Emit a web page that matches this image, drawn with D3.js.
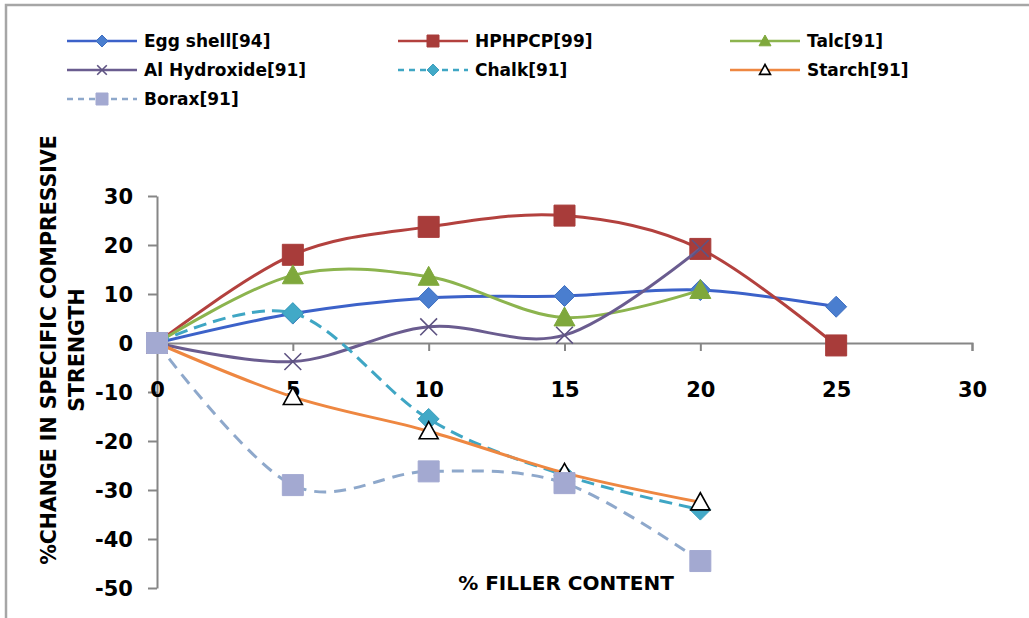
<!DOCTYPE html>
<html><head><meta charset="utf-8">
<script src="https://cdn.jsdelivr.net/npm/d3@7"></script>
<style>
body{margin:0;background:#fff}
text{font-family:"DejaVu Sans",sans-serif;font-weight:bold;fill:#000}
</style>
</head><body>
<svg id="chart" width="1029" height="618"></svg>
<script>
// ---- data ----
const xValues = [0, 5, 10, 15, 20, 25];
const eggShell    = [0, 6.0, 9.2, 9.6, 10.8, 7.4];
const hphpcp      = [0, 18.0, 23.7, 26.0, 19.2, -0.5];
const talc        = [0, 13.8, 13.5, 5.2, 10.8];
const alHydroxide = [0, -3.8, 3.3, 1.6, 19.3];
const chalk       = [0, 6.1, -15.5, -27.0, -34.0];
const starch      = [0, -11.0, -18.0, -26.5, -32.5];
const borax       = [0, -29.0, -26.2, -28.6, -44.5];
const seriesNames = ["Egg shell[94]", "HPHPCP[99]", "Talc[91]", "Al Hydroxide[91]", "Chalk[91]", "Starch[91]", "Borax[91]"];
const xTicks = [0, 5, 10, 15, 20, 25, 30];
const yTicks = [30, 20, 10, 0, -10, -20, -30, -40, -50];
const xTitle = "% FILLER CONTENT";
const yTitle1 = "%CHANGE IN SPECIFIC COMPRESSIVE";
const yTitle2 = "STRENGTH";

// ---- styles ----
const styles = [
  {values: eggShell,    line: "#3C62C9", fill: "#4A7ECF", stroke: "#3E6EC0", marker: "diamond", dash: null},
  {values: hphpcp,      line: "#B3413E", fill: "#A83C3A", stroke: "#A83C3A", marker: "square", dash: null},
  {values: talc,        line: "#8CB44E", fill: "#7FA83C", stroke: "#7FA83C", marker: "triangle", dash: null},
  {values: alHydroxide, line: "#6A5C8F", fill: "none", stroke: "#5E5382", marker: "x", dash: null},
  {values: chalk,       line: "#3FA6C4", fill: "#42A9C7", stroke: "#3FA0BE", marker: "diamond", dash: "13,7"},
  {values: starch,      line: "#EE8741", fill: "#FFFFFF", stroke: "#000000", marker: "openTriangle", dash: null},
  {values: borax,       line: "#8EA8CB", fill: "#A3A9D1", stroke: "#A3A9D1", marker: "square", dash: "12,8"}
];

const svg = d3.select("#chart");
const x = d3.scaleLinear().domain([0, 30]).range([157, 972]);
const y = d3.scaleLinear().domain([-50, 30]).range([588, 196]);

// chart border
svg.append("path").attr("d", "M6,618 L6,5 L1029,5").attr("fill", "none")
  .attr("stroke", "#a6a6a6").attr("stroke-width", 2.5);

function markerPath(type, s) {
  switch (type) {
    case "diamond": return `M0,${-s}L${s},0L0,${s}L${-s},0Z`;
    case "square": return `M${-s},${-s}H${s}V${s}H${-s}Z`;
    case "triangle":
    case "openTriangle": return `M0,${-s}L${s},${s*0.8}L${-s},${s*0.8}Z`;
    case "x": return `M${-s},${-s}L${s},${s}M${-s},${s}L${s},${-s}`;
  }
}
function drawMarker(g, st, cx, cy, s) {
  const p = g.append("path").attr("d", markerPath(st.marker, st.marker === "x" ? s*0.8 : s))
    .attr("transform", `translate(${cx},${cy})`);
  if (st.marker === "x") p.attr("fill", "none").attr("stroke", st.stroke).attr("stroke-width", 1.6);
  else if (st.marker === "openTriangle") p.attr("fill", st.fill).attr("stroke", st.stroke).attr("stroke-width", 1.6);
  else p.attr("fill", st.fill).attr("stroke", st.stroke).attr("stroke-width", 1);
}

// ---- axes ----
const axisColor = "#868686";
const fmt = d => String(d);
const xAxis = svg.append("g").attr("transform", `translate(0,${y(0)})`)
  .call(d3.axisBottom(x).tickValues(xTicks).tickSize(8).tickSizeOuter(8).tickFormat(fmt));
xAxis.select(".domain").attr("stroke", axisColor).attr("stroke-width", 2);
xAxis.selectAll(".tick line").attr("stroke", axisColor).attr("stroke-width", 2);
xAxis.selectAll(".tick text").attr("y", 54).attr("dy", 0).attr("font-size", 21)
  .style("font-family", "DejaVu Sans").style("font-weight", "bold").attr("fill", "#000");

const yAxis = svg.append("g").attr("transform", `translate(${x(0)},0)`)
  .call(d3.axisLeft(y).tickValues(yTicks).tickSize(9).tickSizeOuter(0).tickPadding(15).tickFormat(fmt));
yAxis.select(".domain").attr("stroke", axisColor).attr("stroke-width", 2);
yAxis.selectAll(".tick line").attr("stroke", axisColor).attr("stroke-width", 2);
yAxis.selectAll(".tick text").attr("font-size", 21).attr("dy", "0.36em")
  .style("font-family", "DejaVu Sans").style("font-weight", "bold").attr("fill", "#000");
xAxis.raise();

// ---- series ----
const line = d3.line().x(d => x(d[0])).y(d => y(d[1])).curve(d3.curveCatmullRom.alpha(0));
const plot = svg.append("g");
styles.forEach(st => {
  const pts = st.values.map((v, i) => [xValues[i], v]);
  const g = plot.append("g");
  g.append("path").attr("d", line(pts)).attr("fill", "none").attr("stroke", st.line)
    .attr("stroke-width", 3).attr("stroke-dasharray", st.dash);
  pts.forEach(p => drawMarker(g, st, x(p[0]), y(p[1]), st.marker === "openTriangle" ? 9.5 : 10.5));
});

// ---- titles ----
svg.append("text").attr("x", 566).attr("y", 590).attr("text-anchor", "middle")
  .attr("font-size", 20).text(xTitle);
svg.append("text").attr("transform", "translate(56,350) rotate(-90)").attr("text-anchor", "middle")
  .attr("font-size", 20.5).text(yTitle1);
svg.append("text").attr("transform", "translate(84,350) rotate(-90)").attr("text-anchor", "middle")
  .attr("font-size", 20.5).text(yTitle2);

// ---- legend ----
const legendCols = [67, 398, 730];
const legendRows = [41, 70, 99];
styles.forEach((st, i) => {
  const cx = legendCols[i % 3], cy = legendRows[Math.floor(i / 3)];
  const g = svg.append("g");
  g.append("line").attr("x1", cx).attr("x2", cx + 70).attr("y1", cy).attr("y2", cy)
    .attr("stroke", st.line).attr("stroke-width", 2.5).attr("stroke-dasharray", st.dash ? "6,5" : null);
  drawMarker(g, st, cx + 35, cy, st.marker === "openTriangle" ? 5.5 : 6);
  g.append("text").attr("x", cx + 77).attr("y", cy + 6).attr("font-size", 17).text(seriesNames[i]);
});
</script>
</body></html>
